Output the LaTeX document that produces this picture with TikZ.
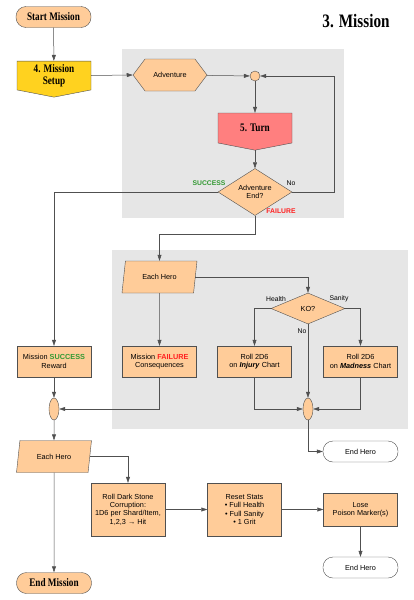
\documentclass[tikz,border=0pt]{standalone}
\usepackage{fontspec}
\setmainfont{Liberation Sans}
\newfontfamily\westfont[FakeStretch=0.8]{Liberation Serif}
\usetikzlibrary{shapes.geometric,shapes.symbols,arrows.meta}
\definecolor{peach}{HTML}{FFCC99}
\definecolor{setupyellow}{HTML}{FFD21F}
\definecolor{turnred}{HTML}{FF7F7F}
\definecolor{panelgrey}{HTML}{E6E6E6}
\definecolor{edgegrey}{HTML}{505050}
\definecolor{okgreen}{HTML}{339933}
\definecolor{badred}{HTML}{FF2020}
\begin{document}
\begin{tikzpicture}[x=1pt,y=-1pt,>={Triangle[length=6pt,width=4pt]},
  every node/.style={font=\fontsize{7.3}{8.4}\selectfont,align=center,inner sep=1pt},
  box/.style={draw=edgegrey,fill=peach,rectangle,minimum width=74pt},
  pill/.style={draw=edgegrey,rounded corners=10pt,minimum width=75pt,minimum height=21pt},
  bigpill/.style={pill,fill=peach,font=\westfont\bfseries\fontsize{11.5}{12}\selectfont},
  offpage/.style={draw=edgegrey,signal,signal to=south,signal from=nowhere,
    signal pointer angle=158,minimum width=74pt,minimum height=33pt,
    font=\westfont\bfseries\fontsize{11.5}{12.5}\selectfont},
  decide/.style={draw=edgegrey,fill=peach,diamond,inner sep=0pt,minimum width=74pt,minimum height=31pt},
  eachhero/.style={draw=edgegrey,fill=peach,trapezium,trapezium left angle=65,
    trapezium right angle=115,trapezium stretches body,minimum width=75pt,minimum height=32pt},
  junct/.style={draw=edgegrey,fill=peach,ellipse,inner sep=0pt,minimum width=10pt,minimum height=22pt},
  lbl/.style={font=\fontsize{6.8}{7}\selectfont\bfseries}]
\useasboundingbox (0,0) rectangle (414,600);
% vung nen xam
\fill[panelgrey] (122,49) rectangle (344,218);
\fill[panelgrey] (112,250) rectangle (408,429);
% dau va tieu de
\node[bigpill] (start) at (53.5,17) {Start Mission};
\node[font=\westfont\bfseries\fontsize{19}{20}\selectfont] (title) at (356,21) {3. Mission};
\node[offpage,fill=setupyellow] (setup) at (54,75.5) {4. Mission\\Setup};
% vong luot choi
\node[draw=edgegrey,fill=peach,signal,signal to=east and west,signal pointer angle=106,
  minimum width=74pt,minimum height=32pt] (adv) at (170,75) {Adventure};
\node[draw=edgegrey,fill=peach,circle,inner sep=0pt,minimum size=10pt] (jn1) at (255,76) {};
\node[offpage,fill=turnred] (turn) at (255,128) {5. Turn};
\node[decide] (advend) at (255,192) {Adventure\\End?};
\node[lbl,text=okgreen] (succ) at (209,183) {SUCCESS};
\node[font=\fontsize{6.8}{7}\selectfont] (no1) at (291,183) {No};
\node[lbl,text=badred] (fail) at (281,211) {FAILURE};
% nhanh that bai
\node[eachhero] (hero1) at (159.5,277) {Each Hero};
\node[decide] (ko) at (308,308.5) {KO?};
\node[font=\fontsize{6.8}{7}\selectfont] (health) at (276,299) {Health};
\node[font=\fontsize{6.8}{7}\selectfont] (sanity) at (339,299) {Sanity};
\node[font=\fontsize{6.8}{7}\selectfont] (no2) at (302,331) {No};
\node[box,minimum height=31pt] (reward) at (54,361.5) {Mission \textbf{\textcolor{okgreen}{SUCCESS}}\\Reward};
\node[box,minimum height=31pt] (failure) at (159.5,361.5) {Mission \textbf{\textcolor{badred}{FAILURE}}\\Consequences};
\node[box,minimum height=31pt] (injury) at (254.5,361.5) {Roll 2D6\\on \textbf{\textit{Injury}} Chart};
\node[box,minimum height=31pt] (madness) at (360.5,361.5) {Roll 2D6\\on \textbf{\textit{Madness}} Chart};
\node[junct] (jn2) at (54,409) {};
\node[junct] (jn3) at (308,409) {};
\node[pill,fill=white] (endhero1) at (360.5,451.5) {End Hero};
% cuoi nhiem vu
\node[eachhero] (hero2) at (54,456.5) {Each Hero};
\node[box,minimum height=53pt] (dark) at (128,509.5) {Roll Dark Stone\\Corruption:\\1D6 per Shard/Item,\\1,2,3 → Hit};
\node[box,minimum height=53pt] (reset) at (244.5,509.5) {Reset Stats\\• Full Health\\• Full Sanity\\• 1 Grit};
\node[box,minimum height=33pt] (poison) at (360.5,509.5) {Lose\\Poison Marker(s)};
\node[pill,fill=white] (endhero2) at (360.5,567.5) {End Hero};
\node[bigpill] (endmis) at (54,583) {End Mission};
% duong noi
\coordinate (loopR) at (334,76);
\coordinate (failbend) at (159.5,234);
\begin{scope}[draw=edgegrey,line width=0.5pt]
\draw[->] (start) -- (setup);
\draw[->] (setup.east) -- (adv.west);
\draw[->] (adv) -- (jn1);
\draw[->] (jn1) -- (turn);
\draw[->] (turn.south) -- (advend);
\draw[->] (advend.east) -| (loopR) -- (jn1);
\draw[->] (advend.west) -| (reward);
\draw[->] (advend.south) |- (failbend) -- (hero1);
\draw[->] (hero1.east) -| (ko);
\draw[->] (ko.west) -| (injury);
\draw[->] (ko.east) -| (madness);
\draw[->] (ko.south) -- (jn3);
\draw[->] (hero1) -- (failure);
\draw[->] (reward) -- (jn2);
\draw[->] (failure) |- (jn2);
\draw[->] (injury) |- (jn3);
\draw[->] (madness) |- (jn3);
\draw[->] (jn3) |- (endhero1);
\draw[->] (jn2) -- (hero2);
\draw[->] (hero2.east) -| (dark);
\draw[->] (dark) -- (reset);
\draw[->] (reset) -- (poison);
\draw[->] (poison) -- (endhero2);
\draw[->] (hero2) -- (endmis);
\end{scope}
\end{tikzpicture}
\end{document}
